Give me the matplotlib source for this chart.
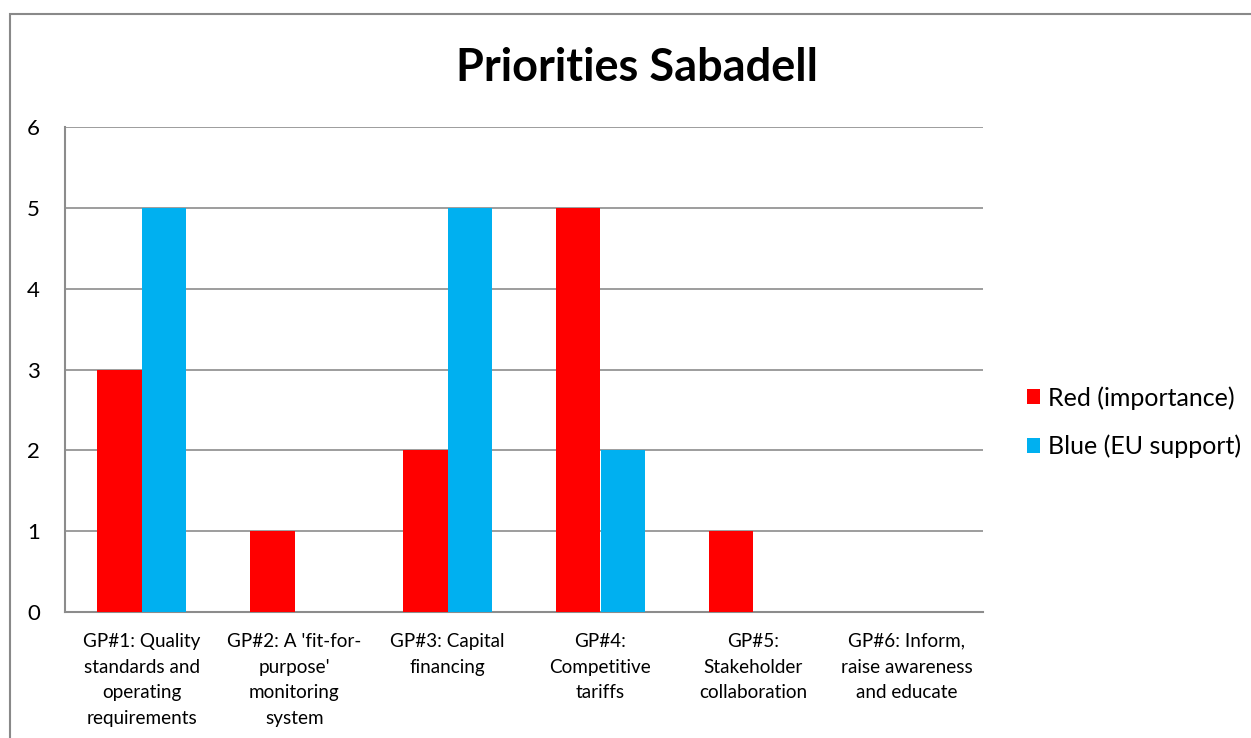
import matplotlib.pyplot as plt
from matplotlib.patches import Rectangle
import numpy as np

categories = ["GP#1: Quality\nstandards and\noperating\nrequirements",
              "GP#2: A 'fit-for-\npurpose'\nmonitoring\nsystem",
              "GP#3: Capital\nfinancing",
              "GP#4:\nCompetitive\ntariffs",
              "GP#5:\nStakeholder\ncollaboration",
              "GP#6: Inform,\nraise awareness\nand educate"]
red_importance = [3, 1, 2, 5, 1, 0]
blue_eu_support = [5, 0, 5, 2, 0, 0]

plt.rcParams['font.family'] = ['Lato', 'DejaVu Sans']

fig = plt.figure(figsize=(12.51, 7.38), dpi=100)
ax = fig.add_axes([65/1251, 1-612/738, (983-65)/1251, (612-127)/738])

x = np.arange(len(categories))
w = 0.288
ax.bar(x - w/2, red_importance, w, color='#ff0000', label='Red (importance)', zorder=3)
ax.bar(x + w/2, blue_eu_support, w, color='#00b0f0', label='Blue (EU support)', zorder=3)

ax.set_xlim(-0.5, len(categories) - 0.5)
ax.set_ylim(0, 6)
ax.set_yticks(range(0, 7))
ax.yaxis.grid(True, color='#8c8c8c', linewidth=1.2, zorder=0)
ax.set_xticks(x)
ax.set_xticklabels(categories, fontsize=13.6, linespacing=1.62, va='top')
ax.tick_params(axis='x', length=0, pad=15)
ax.tick_params(axis='y', length=0, pad=18, labelsize=16)
for s in ['top', 'right']:
    ax.spines[s].set_visible(False)
for s in ['left', 'bottom']:
    ax.spines[s].set_color('#8c8c8c')
    ax.spines[s].set_linewidth(1.5)

fig.text(637/1251, 1-68/738, 'Priorities Sabadell', ha='center', va='center',
         fontsize=32.5, fontweight='bold')

ax.legend(loc='center left', bbox_to_anchor=(1027/1251, 1-422/738),
          bbox_transform=fig.transFigure, frameon=False, fontsize=18,
          borderpad=0, borderaxespad=0,
          handlelength=0.52, handleheight=0.52, handletextpad=0.3,
          labelspacing=1.0)

fig.patches.append(Rectangle((10/1251, -0.1), 1.2, 1.1 - 14/738,
                             transform=fig.transFigure, fill=False,
                             edgecolor='#898989', linewidth=1.5))

fig.savefig('out.png', dpi=100)
